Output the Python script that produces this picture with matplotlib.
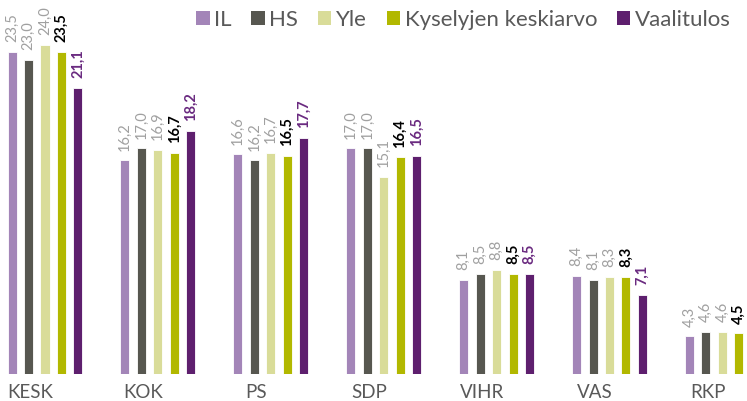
import numpy as np
import matplotlib
matplotlib.use('Agg')
import matplotlib.pyplot as plt
from matplotlib.patches import Patch

plt.rcParams['font.family'] = ['Lato', 'DejaVu Sans']

# Puolueet ja kyselyt
puolueet = ['KESK', 'KOK', 'PS', 'SDP', 'VIHR', 'VAS', 'RKP']
sarjat = ['IL', 'HS', 'Yle', 'Kyselyjen keskiarvo', 'Vaalitulos']

il = [23.5, 16.2, 16.6, 17.0, 8.1, 8.4, 4.3]
hs = [23.0, 17.0, 16.2, 17.0, 8.5, 8.1, 4.6]
yle = [24.0, 16.9, 16.7, 15.1, 8.8, 8.3, 4.6]
keskiarvo = [23.5, 16.7, 16.5, 16.4, 8.5, 8.3, 4.5]
vaalitulos = [21.1, 18.2, 17.7, 16.5, 8.5, 7.1, np.nan]

arvot = [il, hs, yle, keskiarvo, vaalitulos]
varit = ['#a385b8', '#575750', '#d9dc99', '#b2b800', '#5e1f6e']
tekstivarit = ['#a0a0a0', '#a0a0a0', '#a0a0a0', '#000000', '#6a2a80']
lihavoitu = [False, False, False, True, True]

fig = plt.figure(figsize=(7.47, 4.01), dpi=100)
ax = fig.add_axes([0, 27 / 401, 1, 1 - 27 / 401])

px_per_unit = 14.8
x = np.arange(len(puolueet))
vali = 0.146
leveys = 0.08
for i, (vals, c, tc, b) in enumerate(zip(arvot, varit, tekstivarit, lihavoitu)):
    pos = x + (i - 2) * vali
    ax.bar(pos, vals, width=leveys, color=c, edgecolor='white', linewidth=0.6)
    for p, v in zip(pos, vals):
        if np.isnan(v):
            continue
        ax.annotate(f'{v:.1f}'.replace('.', ','), (p, v), xytext=(0, 7),
                    textcoords='offset points', rotation=90, ha='center', va='bottom',
                    fontsize=10.5, color=tc, fontweight='bold' if b else 'normal')

grp = 112.9
ax.set_xlim(-45 / grp, -45 / grp + 747 / grp)
ax.set_ylim(26 / px_per_unit, 400 / px_per_unit)
ax.set_xticks(x - 0.13)
ax.set_xticklabels(puolueet, fontsize=13.5, color='#595959')
ax.tick_params(axis='x', length=0, pad=7)
ax.set_yticks([])
for s in ax.spines.values():
    s.set_visible(False)

handles = [Patch(facecolor=c, edgecolor='none') for c in varit]
leg = fig.legend(handles, sarjat, loc='upper right', bbox_to_anchor=(1.005, 1.025), ncol=5,
                 frameon=False, fontsize=16, handlelength=0.6, handleheight=0.6,
                 handletextpad=0.2, columnspacing=0.9)
for t in leg.get_texts():
    t.set_color('#595959')

fig.savefig('out.png', dpi=100)
